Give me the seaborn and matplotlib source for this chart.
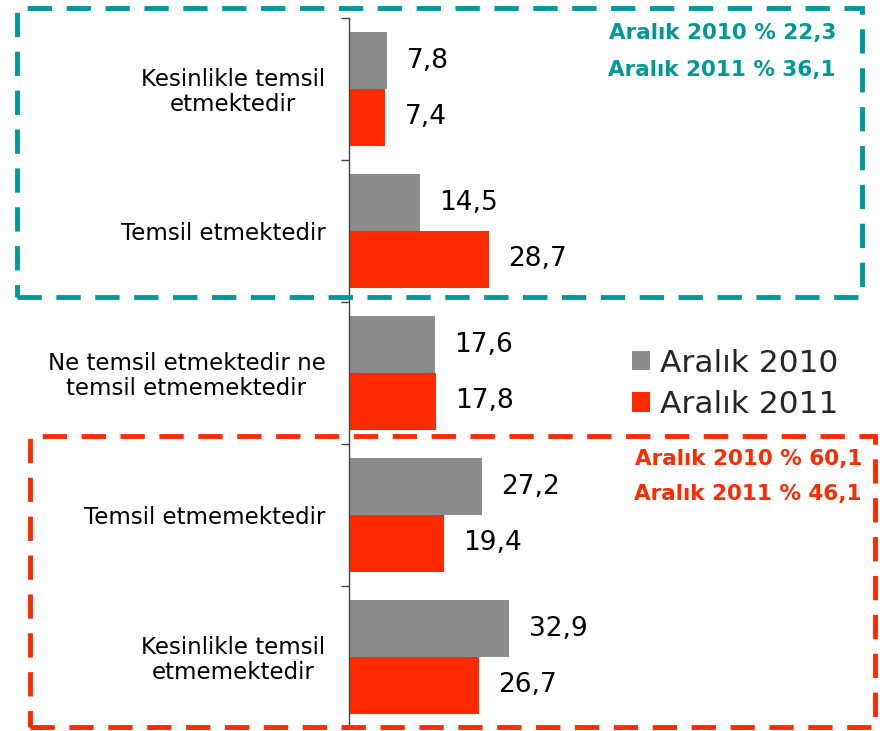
import pandas as pd
import matplotlib.pyplot as plt
import seaborn as sns
from matplotlib.patches import Rectangle

# Survey answers (top to bottom) and shares for each year
categories = ['Kesinlikle temsil\netmektedir', 'Temsil etmektedir',
              'Ne temsil etmektedir ne\ntemsil etmemektedir',
              'Temsil etmemektedir', 'Kesinlikle temsil\netmemektedir']
years = ['Aralık 2010', 'Aralık 2011']
values_2010 = [7.8, 14.5, 17.6, 27.2, 32.9]
values_2011 = [7.4, 28.7, 17.8, 19.4, 26.7]

# Group totals shown in the boxes
summary_pos = ['Aralık 2010 % 22,3', 'Aralık 2011 % 36,1']
summary_neg = ['Aralık 2010 % 60,1', 'Aralık 2011 % 46,1']

gray = '#8c8c8c'
red = '#ff2a00'
teal = '#009999'

df = pd.DataFrame({
    'Kategori': categories * 2,
    'Yıl': [years[0]] * 5 + [years[1]] * 5,
    'Değer': values_2010 + values_2011,
})

sns.set_style('white')
plt.rcParams['font.family'] = ['DejaVu Sans']

fig = plt.figure(figsize=(8.91, 7.31), dpi=100)
ax = fig.add_axes([349 / 891, 3 / 731, 531 / 891, 710 / 731])

sns.barplot(data=df, y='Kategori', x='Değer', hue='Yıl', orient='h',
            palette=[gray, red], width=0.8, saturation=1, linewidth=0,
            ax=ax, legend=True)

ax.set_xlim(0, 109)
ax.set_ylim(4.5, -0.5)
ax.set_xlabel('')
ax.set_ylabel('')
ax.set_xticks([])

# value labels with decimal comma
for cont in ax.containers:
    labels = [f'{b.get_width():.1f}'.replace('.', ',') for b in cont]
    ax.bar_label(cont, labels=labels, padding=14, fontsize=19, color='black')

# category labels at centres, tick marks at boundaries
ax.set_yticks(range(5))
ax.set_yticklabels(categories, fontsize=16.5, color='black', multialignment='center',
                   linespacing=1.1)
ax.tick_params(axis='y', which='major', length=0, pad=17)
ax.set_yticks([i - 0.5 for i in range(6)], minor=True)
ax.tick_params(axis='y', which='minor', length=6, width=1, color='#444444', left=True)

for s in ['top', 'right', 'bottom']:
    ax.spines[s].set_visible(False)
ax.spines['left'].set_color('#444444')
ax.spines['left'].set_linewidth(1)

leg = ax.legend(loc='upper left', bbox_to_anchor=(619 / 891, 1 - 336 / 731),
                bbox_transform=fig.transFigure, frameon=False, fontsize=22.5,
                handlelength=0.6, handleheight=0.6, handletextpad=0.3,
                labelspacing=0.4, borderaxespad=0)

# dashed boxes around positive / negative groups
fig.patches.append(Rectangle((17 / 891, 1 - 297 / 731), 845 / 891, 289 / 731,
                             transform=fig.transFigure, fill=False, edgecolor=teal,
                             linewidth=3.5, linestyle=(0, (5, 3))))
fig.patches.append(Rectangle((30 / 891, 1 - 727 / 731), 845 / 891, 291 / 731,
                             transform=fig.transFigure, fill=False, edgecolor=red,
                             linewidth=3.5, linestyle=(0, (5, 3))))

for i, t in enumerate(summary_pos):
    fig.text(836 / 891, 1 - (33 + 37 * i) / 731, t, ha='right', va='center',
             fontsize=15.5, fontweight='bold', color=teal)
for i, t in enumerate(summary_neg):
    fig.text(862 / 891, 1 - (459 + 35 * i) / 731, t, ha='right', va='center',
             fontsize=15.5, fontweight='bold', color=red)

fig.savefig('out.png', dpi=100)
